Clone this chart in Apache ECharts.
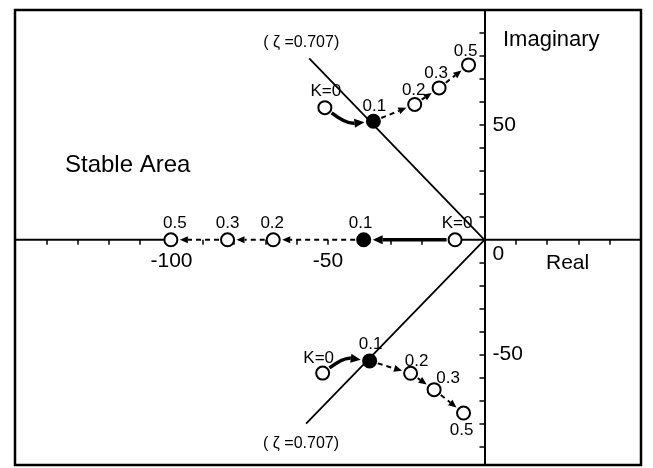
<!DOCTYPE html>
<html><head><meta charset="utf-8">
<script src="https://cdn.jsdelivr.net/npm/echarts@6/dist/echarts.min.js"></script>
<style>html,body{margin:0;padding:0;background:#fff}#c{width:653px;height:468px}</style>
</head><body><div id="c"></div>
<script>
// ---- data ----
const gainLabels = ['K=0', '0.1', '0.2', '0.3', '0.5'];
const upperRe = [-51.0, -35.5, -22.3, -14.5, -5.1];
const upperIm = [57.5, 51.6, 58.9, 66.1, 76.1];
const realRe  = [-9.4, -38.6, -67.5, -82.1, -100.2];
const realIm  = [0, 0, 0, 0, 0];
const lowerRe = [-51.7, -36.7, -23.6, -16.1, -6.7];
const lowerIm = [-58.0, -52.7, -58.1, -65.2, -75.4];
const zetaRe = [-56, -57];
const zetaIm = [79, -80];
const zetaText = '( ζ =0.707)';
const xRange = [-150, 50];
const yRange = [-98, 100];
const xTickValues = [-150, -140, -130, -120, -110, -100, -90, -80, -70, -60, -50, -40, -30, -20, -10, 10, 20, 30, 40, 50];
const yTickValues = [-90, -80, -70, -60, -50, -40, -30, -20, -10, 10, 20, 30, 40, 50, 60, 70, 80, 90];
const xLabelValues = [-100, -50];
const yLabelValues = [50, 0, -50];

// ---- layout / styles ----
const GRID = { left: 15, right: 12, top: 10, bottom: 3 };
const W = 653, H = 468;
const upperLabelOffset = [[1, -16], [1, -15], [-1, -14], [-3, -15], [-3, -14]];
const realLabelOffset  = [[2, -16], [-3, -16], [-1, -16], [0, -16], [4, -16]];
const lowerLabelOffset = [[-4, -15], [1, -17], [6, -12], [14, -11], [-2, 17]];
const zetaLabelOffset  = [[-8, -16], [-5, 20]];
const FONT = 'Liberation Sans, Arial, sans-serif';

const openStyle = { color: '#fff', borderColor: '#000', borderWidth: 2, opacity: 1 };
const filledStyle = { color: '#000', borderColor: '#000', borderWidth: 2, opacity: 1 };

// pixel position of the value 0 on each axis (axes cross at the origin)
const gw = W - GRID.left - GRID.right, gh = H - GRID.top - GRID.bottom;
const zeroX = GRID.left + gw * (0 - xRange[0]) / (xRange[1] - xRange[0]);
const zeroY = GRID.top + gh * (yRange[1] - 0) / (yRange[1] - yRange[0]);

function pointData(re, im, offsets) {
  return re.map((x, i) => ({
    value: [x, im[i]],
    name: gainLabels[i],
    itemStyle: i === 1 ? filledStyle : openStyle,
    label: { offset: offsets[i] }
  }));
}
function segData(re, im) {
  const out = [];
  for (let i = 0; i < re.length - 1; i++) out.push([re[i], im[i], re[i + 1], im[i + 1], i]);
  return out;
}
function segRenderer(firstBend) {
  return function (params, api) {
    const a = api.coord([api.value(0), api.value(1)]);
    const b = api.coord([api.value(2), api.value(3)]);
    const first = api.value(4) === 0;
    const bend = first ? firstBend : 0;
    const dx = b[0] - a[0], dy = b[1] - a[1], L = Math.hypot(dx, dy);
    const nx = -dy / L, ny = dx / L;
    const c = [(a[0] + b[0]) / 2 + nx * bend, (a[1] + b[1]) / 2 + ny * bend];
    let sx = c[0] - a[0], sy = c[1] - a[1]; const sl = Math.hypot(sx, sy); sx /= sl; sy /= sl;
    let ex = b[0] - c[0], ey = b[1] - c[1]; const el = Math.hypot(ex, ey); ex /= el; ey /= el;
    const R = 8.5, AL = first ? 10 : 8, AW = first ? 4.5 : 3.5;
    const p0 = [a[0] + sx * R, a[1] + sy * R];
    const tip = [b[0] - ex * (R + 0.5), b[1] - ey * (R + 0.5)];
    const base = [tip[0] - ex * AL, tip[1] - ey * AL];
    const style = { stroke: '#000', fill: null, lineWidth: first ? 3.5 : 2, lineDash: first ? null : [5, 4] };
    const children = [];
    if (bend) {
      children.push({ type: 'bezierCurve', shape: { x1: p0[0], y1: p0[1], x2: base[0], y2: base[1], cpx1: c[0], cpy1: c[1] }, style });
    } else {
      children.push({ type: 'line', shape: { x1: p0[0], y1: p0[1], x2: base[0], y2: base[1] }, style });
    }
    const px = -ey, py = ex;
    children.push({ type: 'polygon', shape: { points: [tip, [base[0] + px * AW, base[1] + py * AW], [base[0] - px * AW, base[1] - py * AW]] }, style: { fill: '#000' } });
    return { type: 'group', children };
  };
}
function zetaRenderer(params, api) {
  const o = api.coord([0, 0]);
  const e = api.coord([api.value(0), api.value(1)]);
  const off = zetaLabelOffset[params.dataIndex];
  return { type: 'group', children: [
    { type: 'line', shape: { x1: o[0], y1: o[1], x2: e[0], y2: e[1] }, style: { stroke: '#000', lineWidth: 1.8 } },
    { type: 'text', x: e[0] + off[0], y: e[1] + off[1], style: { text: zetaText, font: '16px ' + FONT, fill: '#000', align: 'center', verticalAlign: 'middle' } }
  ] };
}

const pointLabel = { show: true, position: 'inside', formatter: '{b}', color: '#000', fontSize: 17, fontFamily: FONT };
const chart = echarts.init(document.getElementById('c'), null, { renderer: 'canvas' });
chart.setOption({
  animation: false,
  backgroundColor: '#fff',
  grid: Object.assign({ show: true, borderColor: '#000', borderWidth: 2.5, backgroundColor: 'transparent', containLabel: false, outerBoundsMode: 'none' }, GRID),
  xAxis: {
    type: 'value', min: xRange[0], max: xRange[1], position: 'bottom',
    offset: zeroY - (H - GRID.bottom),
    axisLine: { show: false, onZero: false },
    axisTick: { show: true, customValues: xTickValues, length: 5, lineStyle: { color: '#000', width: 1.5 } },
    axisLabel: { customValues: xLabelValues, color: '#000', fontSize: 21, fontFamily: FONT, margin: 11 },
    splitLine: { show: false }
  },
  yAxis: {
    type: 'value', min: yRange[0], max: yRange[1], position: 'left',
    offset: GRID.left - zeroX,
    axisLine: { show: true, onZero: false, lineStyle: { color: '#000', width: 2 } },
    axisTick: { show: true, customValues: yTickValues, length: 5, inside: false, lineStyle: { color: '#000', width: 1.5 } },
    axisLabel: {
      customValues: yLabelValues, inside: true, margin: 8, color: '#000', fontSize: 21, fontFamily: FONT,
      formatter: v => (v === 0 ? '{z|0}' : String(v)),
      rich: { z: { padding: [29, 0, 0, 0], fontSize: 21, fontFamily: FONT, color: '#000' } }
    },
    splitLine: { show: false }
  },
  graphic: [
    { type: 'text', left: 503, top: 29, style: { text: 'Imaginary', font: '22px ' + FONT, fill: '#000' } },
    { type: 'text', left: 546, top: 253, style: { text: 'Real', font: '21px ' + FONT, fill: '#000' } },
    { type: 'text', left: 65, top: 153, style: { text: 'Stable Area', font: '24px ' + FONT, fill: '#000' } }
  ],
  series: [
    { type: 'line', silent: true, symbol: 'none', z: 1, lineStyle: { color: '#000', width: 2 }, data: [[xRange[0], 0], [realRe[realRe.length - 1], 0]] },
    { type: 'line', silent: true, symbol: 'none', z: 1, lineStyle: { color: '#000', width: 2 }, data: [[realRe[0], 0], [xRange[1], 0]] },
    { type: 'custom', name: 'zeta', z: 1, renderItem: zetaRenderer, data: zetaRe.map((x, i) => [x, zetaIm[i]]) },
    { type: 'custom', name: 'upper path', z: 2, renderItem: segRenderer(10), data: segData(upperRe, upperIm) },
    { type: 'custom', name: 'real path', z: 2, renderItem: segRenderer(0), data: segData(realRe, realIm) },
    { type: 'custom', name: 'lower path', z: 2, renderItem: segRenderer(-10), data: segData(lowerRe, lowerIm) },
    { type: 'scatter', name: 'upper', z: 3, symbolSize: 13, label: pointLabel, data: pointData(upperRe, upperIm, upperLabelOffset) },
    { type: 'scatter', name: 'real', z: 3, symbolSize: 13, label: pointLabel, data: pointData(realRe, realIm, realLabelOffset) },
    { type: 'scatter', name: 'lower', z: 3, symbolSize: 13, label: pointLabel, data: pointData(lowerRe, lowerIm, lowerLabelOffset) }
  ]
});
</script></body></html>
